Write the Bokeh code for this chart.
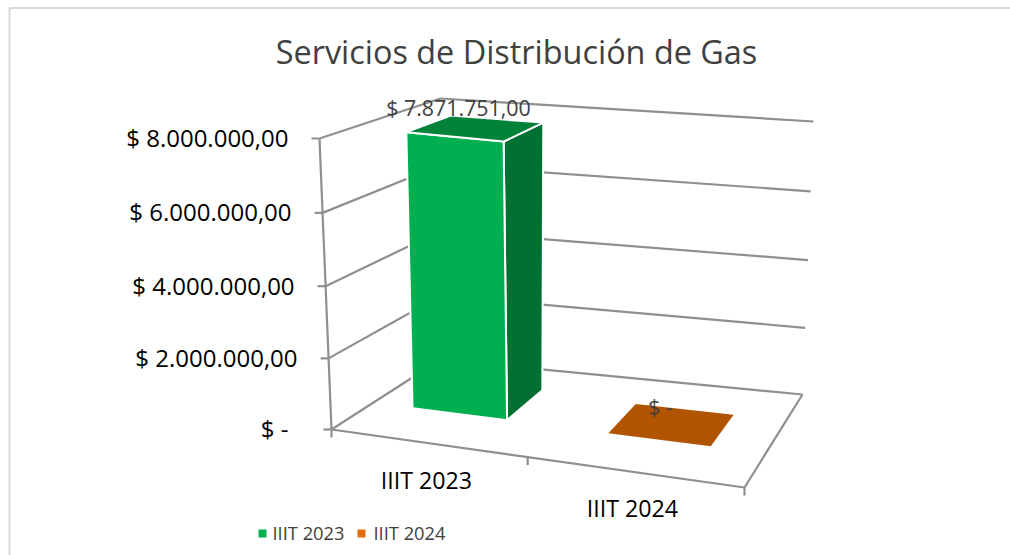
from bokeh.plotting import figure
from bokeh.models import Range1d
from bokeh.core.properties import value
from bokeh.embed import file_html
from bokeh.resources import INLINE

# ---- data ----
title_text = "Servicios de Distribución de Gas"
categories = ["IIIT 2023", "IIIT 2024"]
values = [7871751.0, 0.0]
value_labels = ["$ 7.871.751,00", "$ -"]
tick_values = [0, 2000000, 4000000, 6000000, 8000000]
tick_labels = ["$ -", "$ 2.000.000,00", "$ 4.000.000,00", "$ 6.000.000,00", "$ 8.000.000,00"]
axis_max = 8000000.0

# ---- style ----
FONT = value("Open Sans")
GRID = "#8f8f8f"
FRONT = ["#00B050", "#B05400"]
SIDE = ["#007033", "#7a3a00"]
TOP = ["#008238", "#B05400"]
LEGEND = ["#00B050", "#E46C0A"]

# ---- projection of the 3D box onto the page (u along categories, w depth, t height) ----
B = {"fl": (331, 429), "fr": (744, 487), "br": (802, 394), "bl": (440, 359)}
T = {"fl": (319, 138), "fr": (744, 187), "br": (813, 121), "bl": (440, 98)}


def blend(c, u, w):
    return tuple((1 - u) * (1 - w) * c["fl"][i] + u * (1 - w) * c["fr"][i]
                 + (1 - u) * w * c["bl"][i] + u * w * c["br"][i] for i in range(2))


def proj(u, w, v):
    t = v / axis_max
    t = t * (0.97 + 0.03 * t)
    b, h = blend(B, u, w), blend(T, u, w)
    return b[0] + (h[0] - b[0]) * t, b[1] + (h[1] - b[1]) * t


p = figure(width=1010, height=555, output_backend="svg", toolbar_location=None,
           x_range=Range1d(0, 1010), y_range=Range1d(555, 0), min_border=0,
           background_fill_color="white", border_fill_color="white")
p.outline_line_color = None
p.axis.visible = False
p.grid.visible = False

# chart frame
p.line([9, 9, 1010], [555, 7.5, 7.5], line_color="#d9d9d9", line_width=2)


def seg(points, color=GRID, width=2.2):
    p.line([a[0] for a in points], [a[1] for a in points], line_color=color, line_width=width)


# walls and gridlines
for v in tick_values:
    seg([proj(0, 0, v), proj(0, 1, v), proj(1, 1, v)])
seg([proj(0, 0, 0), proj(0, 0, axis_max)])
# value-axis ticks
for v in tick_values:
    a = proj(0, 0, v)
    seg([(a[0] - 8, a[1]), a])
# floor
seg([proj(0, 0, 0), proj(1, 0, 0), proj(1, 1, 0)])
for pu in [0.0, 0.475, 1.0]:
    a = proj(pu, 0, 0)
    seg([a, (a[0], a[1] + 8)])

# bars
spans = [(0.102, 0.342), (0.60, 0.86)]
depths = [(0.375, 0.76), (0.37, 0.72)]
for i, val in enumerate(values):
    u0, u1 = spans[i]
    w0, w1 = depths[i]
    stroke = "white" if val > 0 else None

    def poly(pts, col):
        p.patch([a[0] for a in pts], [a[1] for a in pts], fill_color=col,
                line_color=stroke, line_width=2)

    if val > 0:
        poly([proj(u1, w0, 0), proj(u1, w1, 0), proj(u1, w1, val), proj(u1, w0, val)], SIDE[i])
        poly([proj(u0, w0, 0), proj(u1, w0, 0), proj(u1, w0, val), proj(u0, w0, val)], FRONT[i])
    poly([proj(u0, w0, val), proj(u1, w0, val), proj(u1, w1, val), proj(u0, w1, val)], TOP[i])


def txt(x, y, s, size, color, align="left"):
    p.text([x], [y], text=[s], text_font=FONT, text_font_size=size, text_color=color,
           text_align=align, text_baseline="middle")


# texts
txt(516, 50, title_text, "32.4px", "#404040", "center")
for v, lab in zip(tick_values, tick_labels):
    a = proj(0, 0, v)
    extra = 12 if v == 0 else 0
    txt(a[0] - 31 - extra, a[1] - 1, lab, "24px", "#000000", "right")
txt(426, 479, categories[0], "23.2px", "#000000", "center")
txt(632, 507, categories[1], "23.2px", "#000000", "center")
txt(458, 106.5, value_labels[0], "21.4px", "#404040", "center")
txt(660, 406, value_labels[1], "21.4px", "#404040", "center")

# legend
for x_sq, x_txt, col, s in zip([262, 361], [272, 373], LEGEND, categories):
    p.scatter([x_sq], [533], marker="square", size=8, fill_color=col, line_color=None)
    txt(x_txt, 531.5, s, "18.3px", "#404040")

open("out.html", "w").write(file_html(p, INLINE))
